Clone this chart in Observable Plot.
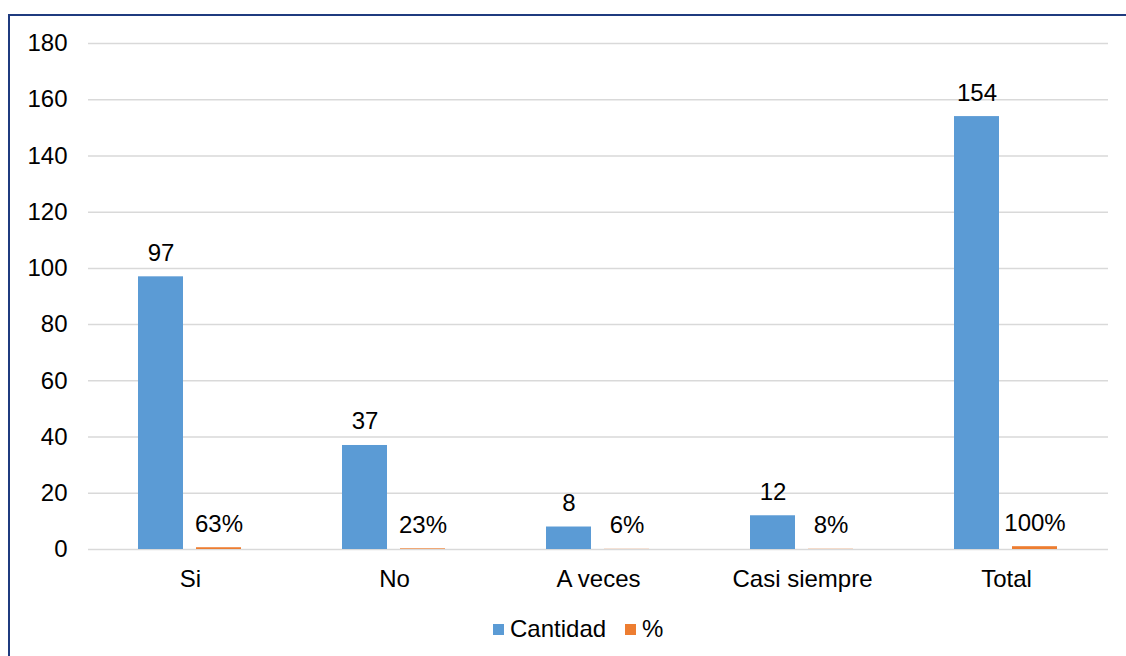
<!DOCTYPE html>
<html>
<head>
<meta charset="utf-8">
<script src="https://cdn.jsdelivr.net/npm/d3@7"></script>
<script src="https://cdn.jsdelivr.net/npm/@observablehq/plot@0.6"></script>
<style>
  html, body { margin: 0; padding: 0; background: #fff; width: 1126px; height: 656px; overflow: hidden; position: relative; font-family: "Liberation Sans", Arial, sans-serif; }
  #frame { position: absolute; left: 8px; top: 14px; width: 1200px; height: 700px; border: 2px solid #1f3b7f; box-sizing: border-box; }
  #chart { position: absolute; left: 0; top: 0; }
  #legend { position: absolute; left: 493px; top: 615px; display: flex; align-items: center; font-size: 24px; color: #000; }
  #legend .sw { width: 11px; height: 11px; display: inline-block; margin-right: 6px; }
  #legend .item { display: flex; align-items: center; margin-right: 19px; }
</style>
</head>
<body>
<div id="frame"></div>
<div id="chart"></div>
<div id="legend"></div>
<script>
const categories = ["Si", "No", "A veces", "Casi siempre", "Total"];
const series = ["Cantidad", "%"];
const cantidad = [97, 37, 8, 12, 154];
const porcentaje = [0.63, 0.23, 0.06, 0.08, 1.00];
const cantidadLabels = ["97", "37", "8", "12", "154"];
const porcentajeLabels = ["63%", "23%", "6%", "8%", "100%"];
const yTicks = [0, 20, 40, 60, 80, 100, 120, 140, 160, 180];
const colors = ["#5b9bd5", "#ed7d31"];

const rows = [];
categories.forEach((c, i) => {
  rows.push({cat: c, series: series[0], value: cantidad[i], label: cantidadLabels[i]});
  rows.push({cat: c, series: series[1], value: porcentaje[i], label: porcentajeLabels[i]});
});

const chart = Plot.plot({
  width: 1126,
  height: 600,
  marginLeft: 87,
  marginRight: 18,
  marginTop: 43,
  marginBottom: 51,
  style: {fontFamily: "'Liberation Sans', Arial, sans-serif", fontSize: "24px", color: "#000", background: "transparent"},
  fx: {domain: categories, padding: 0, label: null, axis: "bottom", tickSize: 0, tickPadding: 20},
  x: {domain: series, paddingInner: 0.22, paddingOuter: 0.85, axis: null},
  y: {domain: [0, 180], ticks: yTicks, label: null, tickSize: 0, tickPadding: 21},
  color: {domain: series, range: colors},
  marks: [
    Plot.ruleY(yTicks, {stroke: "#d9d9d9", strokeWidth: 1.5}),
    Plot.barY(rows, {fx: "cat", x: "series", y: "value", fill: "series"}),
    Plot.text(rows, {fx: "cat", x: "series", y: "value", text: "label", lineAnchor: "bottom", dy: -16, fill: "#000"})
  ]
});
document.getElementById("chart").appendChild(chart);

const legend = document.getElementById("legend");
series.forEach((s, i) => {
  const item = document.createElement("div");
  item.className = "item";
  const sw = document.createElement("span");
  sw.className = "sw";
  sw.style.background = colors[i];
  item.appendChild(sw);
  item.appendChild(document.createTextNode(s));
  legend.appendChild(item);
});
</script>
</body>
</html>
